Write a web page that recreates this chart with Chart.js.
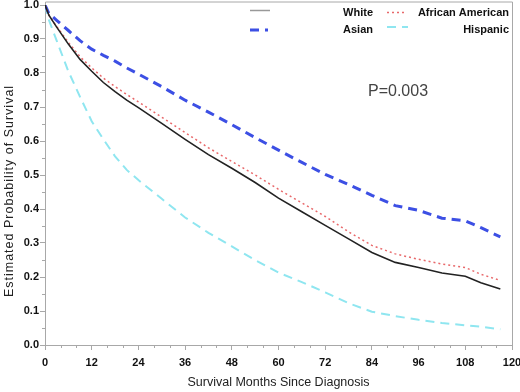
<!DOCTYPE html>
<html>
<head>
<meta charset="utf-8">
<script src="https://cdn.jsdelivr.net/npm/chart.js@4.4.1/dist/chart.umd.min.js"></script>
<style>
  html, body { margin: 0; padding: 0; background: #fff; }
</style>
</head>
<body>
<canvas id="survival" width="520" height="392"></canvas>
<script>
// months since diagnosis where the curves were read
const months = [0, 1, 3, 6, 9, 12, 15, 18, 21, 24, 30, 36, 42, 48, 54, 60, 66, 72, 78, 84, 90, 96, 102, 108, 112, 117];

// estimated survival per group
const white = [1.0, 0.97, 0.935, 0.885, 0.84, 0.805, 0.772, 0.745, 0.72, 0.698, 0.652, 0.605, 0.56, 0.52, 0.478, 0.432, 0.392, 0.352, 0.312, 0.272, 0.243, 0.228, 0.212, 0.202, 0.183, 0.165];
const africanAmerican = [1.0, 0.97, 0.937, 0.89, 0.848, 0.815, 0.785, 0.76, 0.737, 0.715, 0.67, 0.625, 0.58, 0.54, 0.50, 0.458, 0.418, 0.378, 0.333, 0.293, 0.268, 0.252, 0.238, 0.228, 0.208, 0.19];
const asian = [1.0, 0.975, 0.955, 0.925, 0.895, 0.87, 0.852, 0.835, 0.815, 0.797, 0.76, 0.72, 0.685, 0.648, 0.61, 0.573, 0.537, 0.502, 0.472, 0.44, 0.41, 0.396, 0.373, 0.365, 0.345, 0.318];
const hispanic = [1.0, 0.956, 0.895, 0.805, 0.73, 0.658, 0.605, 0.555, 0.515, 0.485, 0.43, 0.375, 0.33, 0.29, 0.25, 0.213, 0.185, 0.155, 0.123, 0.098, 0.085, 0.074, 0.065, 0.058, 0.054, 0.046];

const groupNames = ['White', 'African American', 'Asian', 'Hispanic'];
const pValueText = 'P=0.003';

function pts(vals) {
  return months.map((m, i) => ({ x: m, y: vals[i] }));
}

// minor ticks, frame, legend, p value and axis titles
const extras = {
  id: 'extras',
  afterDraw(chart) {
    const { ctx, chartArea: a, scales: { x, y } } = chart;
    ctx.save();
    ctx.strokeStyle = '#a8a8a8';
    ctx.lineWidth = 1;
    ctx.beginPath();
    ctx.moveTo(a.left + 0.5, a.top - 3);
    ctx.lineTo(a.right + 0.5, a.top - 3);
    ctx.lineTo(a.right + 0.5, a.bottom);
    ctx.moveTo(a.left + 0.5, a.top - 3);
    ctx.lineTo(a.left + 0.5, a.top);
    // minor ticks
    for (let m = 4; m < 120; m += 4) {
      if (m % 12 === 0) continue;
      const px = Math.round(x.getPixelForValue(m)) + 0.5;
      ctx.moveTo(px, a.bottom);
      ctx.lineTo(px, a.bottom + 3);
    }
    for (let v = 0.05; v < 1; v += 0.1) {
      const py = Math.round(y.getPixelForValue(v)) + 0.5;
      ctx.moveTo(a.left - 3, py);
      ctx.lineTo(a.left, py);
    }
    ctx.stroke();

    // legend
    ctx.font = 'bold 11px "Liberation Sans", Arial, sans-serif';
    ctx.fillStyle = '#111';
    ctx.textAlign = 'right';
    ctx.textBaseline = 'middle';
    ctx.fillText(groupNames[0], 373, 13);
    ctx.fillText(groupNames[1], 509, 13);
    ctx.fillText(groupNames[2], 373, 30);
    ctx.fillText(groupNames[3], 509, 30);
    const sample = (x0, x1, yy, ds) => {
      ctx.beginPath();
      ctx.strokeStyle = ds.borderColor;
      ctx.lineWidth = ds.borderWidth;
      ctx.setLineDash(ds.borderDash || []);
      ctx.moveTo(x0, yy);
      ctx.lineTo(x1, yy);
      ctx.stroke();
    };
    const d = chart.data.datasets;
    sample(250, 270, 10.5, { borderColor: '#999', borderWidth: 1.5 });
    sample(387, 404, 12.5, d[1]);
    sample(250, 268, 30, d[2]);
    sample(387, 408, 27, d[3]);
    ctx.setLineDash([]);

    // p value
    ctx.font = '16px "Liberation Sans", Arial, sans-serif';
    ctx.fillStyle = '#444';
    ctx.textAlign = 'center';
    ctx.fillText(pValueText, 398, 92);

    // axis titles
    ctx.fillStyle = '#222';
    ctx.font = '12.5px "Liberation Sans", Arial, sans-serif';
    ctx.fillText('Survival Months Since Diagnosis', (a.left + a.right) / 2, 383);
    ctx.translate(10, 191);
    ctx.rotate(-Math.PI / 2);
    ctx.letterSpacing = '1px';
    ctx.textAlign = 'left';
    const yTitle = 'Estimated Probability of Survival';
    const w = ctx.measureText(yTitle).width;
    ctx.fillText(yTitle, -w / 2, 0);
    ctx.restore();
  }
};

const config = {
  type: 'line',
  data: {
    datasets: [
      {
        label: groupNames[0],
        data: pts(white),
        borderColor: '#222',
        borderWidth: 1.6,
        order: 0
      },
      {
        label: groupNames[1],
        data: pts(africanAmerican),
        borderColor: '#e8686a',
        borderWidth: 1.5,
        borderDash: [2, 3],
        order: 1
      },
      {
        label: groupNames[2],
        data: pts(asian),
        borderColor: '#3c4fe4',
        borderWidth: 3,
        borderDash: [9, 6],
        order: 2
      },
      {
        label: groupNames[3],
        data: pts(hispanic),
        borderColor: '#8fe6f0',
        borderWidth: 2,
        borderDash: [9, 6],
        order: 3
      }
    ]
  },
  options: {
    responsive: false,
    animation: false,
    devicePixelRatio: 1,
    layout: { padding: { top: 5, right: 8, left: 0, bottom: 0 } },
    elements: { point: { radius: 0 }, line: { tension: 0 } },
    plugins: { legend: { display: false }, tooltip: { enabled: false } },
    scales: {
      x: {
        type: 'linear',
        min: 0,
        max: 120,
        border: { color: '#a8a8a8' },
        grid: { drawOnChartArea: false, tickLength: 5, color: '#a8a8a8' },
        ticks: {
          stepSize: 12,
          padding: 6,
          color: '#111',
          font: { family: '"Liberation Sans", Arial, sans-serif', size: 11, weight: 'bold' }
        },
        afterFit: function (scale) {
          scale.height = 47;
          scale.paddingLeft = 0;
          scale.paddingRight = 0;
        }
      },
      y: {
        min: 0,
        max: 1,
        border: { color: '#a8a8a8' },
        grid: { drawOnChartArea: false, tickLength: 5, color: '#a8a8a8' },
        ticks: {
          stepSize: 0.1,
          padding: 1,
          color: '#111',
          font: { family: '"Liberation Sans", Arial, sans-serif', size: 11, weight: 'bold' },
          callback: function (val) { return val.toFixed(1); }
        },
        afterFit: function (scale) {
          scale.width = 45;
          scale.paddingTop = 0;
          scale.paddingBottom = 0;
        }
      }
    }
  },
  plugins: [extras]
};

new Chart(document.getElementById('survival'), config);
</script>
</body>
</html>
